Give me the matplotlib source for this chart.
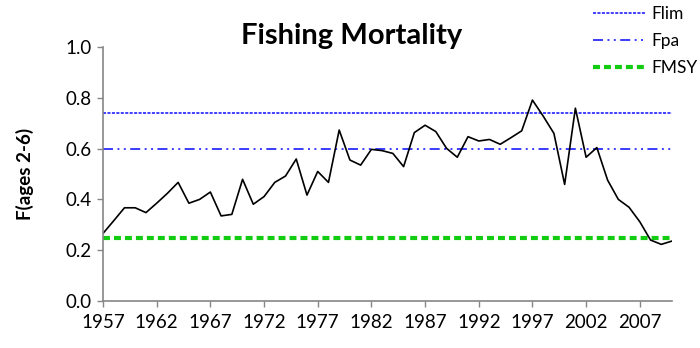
import matplotlib
matplotlib.use("Agg")
import matplotlib.pyplot as plt
import numpy as np

years = list(range(1957, 2011))
f_values = [0.266, 0.316, 0.367, 0.367, 0.348, 0.385, 0.424, 0.467, 0.385, 0.400,
            0.429, 0.335, 0.341, 0.479, 0.381, 0.411, 0.467, 0.492, 0.559, 0.417,
            0.510, 0.467, 0.673, 0.555, 0.535, 0.597, 0.592, 0.581, 0.529, 0.663,
            0.692, 0.667, 0.601, 0.566, 0.647, 0.630, 0.636, 0.617, 0.643, 0.670,
            0.791, 0.728, 0.660, 0.459, 0.759, 0.566, 0.604, 0.476, 0.400, 0.369,
            0.312, 0.240, 0.223, 0.236]
ref_names = ["Flim", "Fpa", "FMSY"]
ref_values = [0.74, 0.60, 0.25]
yticks = [0.0, 0.2, 0.4, 0.6, 0.8, 1.0]
xtick_years = list(range(1957, 2010, 5))

plt.rcParams['font.family'] = ['Lato', 'DejaVu Sans']
plt.rcParams['lines.scale_dashes'] = False

W, H = 700, 348
fig = plt.figure(figsize=(W / 100, H / 100), dpi=100)
ax = fig.add_axes([103 / W, 47 / H, (672 - 103) / W, (301 - 47) / H])

axis_col = '#868686'
styles = [
    dict(color='#3333ff', lw=1.3, dashes=(2.2, 1.0)),
    dict(color='#1a1aff', lw=1.2, dashes=(7.2, 3.2, 1.4, 3.2, 1.4, 3.2)),
    dict(color='#11cc11', lw=3.0, dashes=(5.0, 2.9)),
]
handles = []
for name, val, st in zip(ref_names, ref_values, styles):
    h, = ax.plot([years[0], years[-1]], [val, val], label=name, color=st['color'],
                 lw=st['lw'], dashes=st['dashes'])
    handles.append(h)

ax.plot(years, f_values, color='black', lw=1.2)

ax.set_xlim(1957, 2010)
ax.set_ylim(0, 1.0)
ax.set_yticks(yticks)
ax.set_yticklabels([f"{v:.1f}" for v in yticks])
ax.set_xticks(xtick_years)
ax.set_xticklabels([str(y) for y in xtick_years])

for s in ['top', 'right']:
    ax.spines[s].set_visible(False)
for s in ['left', 'bottom']:
    ax.spines[s].set_color(axis_col)
    ax.spines[s].set_linewidth(1.2)
ax.tick_params(axis='y', length=4.3, width=1.0, color=axis_col, labelsize=13.5, pad=4)
ax.tick_params(axis='x', length=4.0, width=1.0, color=axis_col, labelsize=13.5, pad=5)

ax.set_ylabel("F(ages 2-6)", fontsize=13.5, fontweight='bold')
ax.yaxis.set_label_coords(-69 / (672 - 103), 0.5)

fig.text(352 / W, 1 - 36 / H, "Fishing Mortality", ha='center', va='center',
         fontsize=21, fontweight='bold')

fig.legend(handles=handles, labels=ref_names, loc='upper left',
           bbox_to_anchor=(590 / W, 1 - 3 / H), bbox_transform=fig.transFigure,
           frameon=False, fontsize=12.5, handlelength=3.0, handletextpad=0.35,
           labelspacing=0.62, borderaxespad=0, borderpad=0.2)

fig.savefig("out.png", dpi=100)
